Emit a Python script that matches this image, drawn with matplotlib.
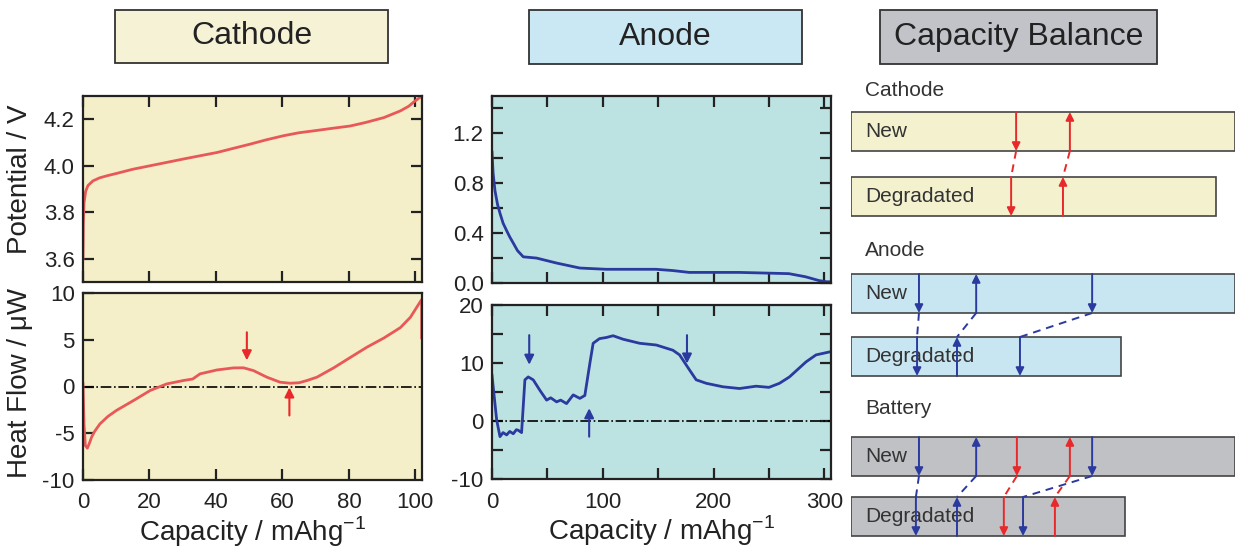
import matplotlib
matplotlib.use("Agg")
import matplotlib.pyplot as plt
from matplotlib.patches import Rectangle

plt.rcParams['font.family'] = ['Liberation Sans', 'DejaVu Sans']
plt.rcParams['mathtext.fontset'] = 'custom'
plt.rcParams['mathtext.rm'] = 'Liberation Sans'
plt.rcParams['axes.unicode_minus'] = False

# Cathode potential curve
cath_cap_v = [0, 0.1, 0.3, 0.8, 1.5, 3.0, 5.0, 7.5, 10.1, 15.0, 20.2, 30.2, 40.3,
              45.0, 50.3, 55.0, 60.3, 65.0, 70.4, 75.0, 80.4, 85.0, 90.5, 95.5,
              98.0, 99.5, 101.3]
cath_pot = [3.60, 3.75, 3.84, 3.89, 3.915, 3.935, 3.948, 3.958, 3.967, 3.985, 4.0,
            4.029, 4.057, 4.074, 4.093, 4.111, 4.129, 4.142, 4.152, 4.161, 4.171,
            4.186, 4.207, 4.236, 4.256, 4.274, 4.293]

# Cathode heat flow curve
cath_cap_h = [0, 0.3, 0.7, 1.3, 2.0, 2.6, 3.5, 5.1, 7.5, 10.1, 15.2, 20.2, 25.2,
              30.2, 33.0, 35.2, 40.3, 45.3, 48.3, 51.3, 55.3, 59.3, 62.3, 65.0,
              67.4, 70.4, 75.4, 80.4, 85.4, 90.5, 95.5, 98.5, 101.0, 101.9, 101.9]
cath_heat = [0.3, -4.0, -6.3, -6.6, -6.0, -5.4, -4.8, -4.0, -3.2, -2.55, -1.5,
             -0.43, 0.28, 0.64, 0.8, 1.35, 1.77, 1.99, 2.0, 1.7, 1.0, 0.46, 0.35,
             0.4, 0.64, 1.0, 1.99, 3.1, 4.2, 5.18, 6.3, 7.4, 8.8, 9.3, 5.2]

# Anode potential curve
an_cap_v = [0, 1.0, 2.7, 5.0, 7.2, 10.0, 13.2, 16.0, 19.2, 23.0, 28.2, 40.2, 58.3,
            79.3, 103, 148, 163, 178, 223, 268, 283, 295, 302, 306]
an_pot = [1.05, 0.88, 0.74, 0.63, 0.56, 0.48, 0.42, 0.37, 0.32, 0.26, 0.21, 0.20,
          0.16, 0.12, 0.11, 0.11, 0.10, 0.085, 0.085, 0.075, 0.05, 0.02, 0.01, 0.01]

# Anode heat flow curve
an_cap_h = [0, 1.4, 4.2, 7.2, 10.0, 13.2, 16.0, 19.2, 22.0, 23.7, 26.7, 29.7, 32.7,
            37.2, 43.2, 49.3, 53.0, 58.3, 62.0, 67.3, 73.3, 79.3, 83.8, 88.3, 91.3,
            97.0, 103.3, 109.3, 118.3, 133.3, 148.3, 163.3, 169.3, 178.3, 184.3,
            193.4, 208.4, 223.4, 238.4, 250.0, 259.5, 268.5, 283.5, 292.5, 304.5]
an_heat = [7.9, 5.3, 0.2, -2.7, -2.0, -2.4, -1.8, -2.2, -1.5, -1.6, -2.0, 7.1, 7.6,
           7.1, 5.3, 3.6, 4.0, 3.3, 3.6, 3.0, 4.5, 3.9, 4.4, 9.9, 13.4, 14.2, 14.4,
           14.7, 14.1, 13.4, 13.1, 12.2, 11.4, 8.8, 7.1, 6.5, 5.9, 5.6, 6.0, 5.8,
           6.5, 7.6, 10.2, 11.4, 11.9]

# arrow markers: (capacity, start, end)
cath_arrows = [(49.3, 5.8, 2.8), (62.1, -3.1, -0.1)]
an_arrows = [(33.6, 14.8, 9.7), (87.7, -2.7, 2.2), (176.0, 14.8, 9.9)]

# capacity balance schematic (capacity in % of the new bar)
cath_width = [100, 95.1]
an_width = [100, 70.3]
batt_width = [100, 71.4]
cath_red_down = [43.0, 41.7]
cath_red_up = [57.0, 55.2]
an_blue_down = [[17.7, 17.2], [62.8, 44.0]]
an_blue_up = [[32.6, 27.6]]
batt_blue_down = [[17.7, 16.9], [62.8, 44.8]]
batt_blue_up = [[32.6, 27.6]]
batt_red_down = [[43.2, 39.8]]
batt_red_up = [[57.0, 53.1]]

W, H = 1236, 557
RED = '#e85858'
RED_ARROW = '#e8282a'
BLUE = '#2a3a9e'
CATH_BG = '#f4efc8'
AN_BG = '#bde2e2'
XLABEL = 'Capacity / mAhg$^{\\mathregular{-1}}$'

fig = plt.figure(figsize=(W / 100, H / 100), dpi=100)


def px_axes(x0, y0, x1, y1):
    return [x0 / W, 1 - y1 / H, (x1 - x0) / W, (y1 - y0) / H]


def style(ax, sides):
    for s in ax.spines.values():
        s.set_linewidth(1.6)
        s.set_color('#222222')
    ax.tick_params(direction='in', length=8, width=1.6, labelsize=16,
                   colors='#222222', **sides)
    ax.tick_params(axis='x', pad=9)
    ax.tick_params(axis='y', pad=6)


def arrow(ax, x, y0, y1, color, lw=1.5, ms=14):
    ax.annotate('', xy=(x, y1), xytext=(x, y0),
                arrowprops=dict(arrowstyle='-|>', color=color, lw=lw,
                                mutation_scale=ms, shrinkA=0, shrinkB=0))


# headers
headers = [('Cathode', (115, 10, 388, 63), '#f5f2d6'),
           ('Anode', (529, 10, 802, 64), '#c9e8f4'),
           ('Capacity Balance', (880, 10, 1157, 64), '#c1c3c9')]
for label, (x0, y0, x1, y1), col in headers:
    r = Rectangle((x0 / W, 1 - y1 / H), (x1 - x0) / W, (y1 - y0) / H,
                  transform=fig.transFigure, facecolor=col, edgecolor='#333333',
                  lw=1.3)
    fig.add_artist(r)
    fig.text((x0 + x1) / 2 / W, 1 - (y0 + y1) / 2 / H, label, fontsize=23,
             ha='center', va='center', color='#222222')

# cathode potential
ax1 = fig.add_axes(px_axes(83, 96, 422, 282))
ax1.set_facecolor(CATH_BG)
ax1.plot(cath_cap_v, cath_pot, color=RED, lw=2)
ax1.set_xlim(0, 102)
ax1.set_ylim(3.5, 4.3)
ax1.set_yticks([3.6, 3.8, 4.0, 4.2])
ax1.set_xticks(range(0, 101, 20))
ax1.set_xticklabels([])
style(ax1, dict(top=True, right=True))
ax1.set_ylabel('Potential / V', fontsize=20, color='#222222')
ax1.yaxis.set_label_coords(-0.147, 0.55)

# cathode heat flow
ax2 = fig.add_axes(px_axes(83, 293, 422, 480))
ax2.set_facecolor(CATH_BG)
ax2.axhline(0, color='black', lw=1.2, ls='-.')
ax2.plot(cath_cap_h, cath_heat, color=RED, lw=2)
for x, a, b in cath_arrows:
    arrow(ax2, x, a, b, RED_ARROW)
ax2.set_xlim(0, 102)
ax2.set_ylim(-10, 10)
ax2.set_yticks([-10, -5, 0, 5, 10])
ax2.set_xticks(range(0, 101, 20))
style(ax2, dict())
ax2.set_ylabel('Heat Flow / \u03bcW', fontsize=20, color='#222222')
ax2.yaxis.set_label_coords(-0.147, 0.52)
ax2.set_xlabel(XLABEL, fontsize=20, color='#222222', labelpad=1)

# anode potential
ax3 = fig.add_axes(px_axes(492, 96, 831, 283))
ax3.set_facecolor(AN_BG)
ax3.plot(an_cap_v, an_pot, color=BLUE, lw=2)
ax3.set_xlim(0, 306)
ax3.set_ylim(0, 1.5)
ax3.set_yticks([0, 0.2, 0.4, 0.6, 0.8, 1.0, 1.2, 1.4])
ax3.set_yticklabels(['0.0', '', '0.4', '', '0.8', '', '1.2', ''])
ax3.set_xticks(range(0, 301, 50))
ax3.set_xticklabels([])
style(ax3, dict(top=True, right=True))

# anode heat flow
ax4 = fig.add_axes(px_axes(492, 305, 831, 479))
ax4.set_facecolor(AN_BG)
ax4.axhline(0, color='black', lw=1.2, ls='-.')
ax4.plot(an_cap_h, an_heat, color=BLUE, lw=2)
for x, a, b in an_arrows:
    arrow(ax4, x, a, b, BLUE)
ax4.set_xlim(0, 306)
ax4.set_ylim(-10, 20)
ax4.set_yticks([-10, -5, 0, 5, 10, 15, 20])
ax4.set_yticklabels(['-10', '', '0', '', '10', '', '20'])
ax4.set_xticks(range(0, 301, 50))
ax4.set_xticklabels(['0', '', '100', '', '200', '', '300'])
style(ax4, dict(top=True, right=True))
ax4.set_xlabel(XLABEL, fontsize=20, color='#222222', labelpad=1)

# capacity balance schematic
ax5 = fig.add_axes([851 / W, 0, 384 / W, 1])
ax5.set_xlim(0, 100)
ax5.set_ylim(H, 0)
ax5.axis('off')

BAR_H = 39


def bar_pair(widths, tops, color, down, up, group, label_y):
    ax5.text(3.6, label_y, group, fontsize=15, va='center', color='#333333')
    for w, t, name in zip(widths, tops, ['New', 'Degradated']):
        ax5.add_patch(Rectangle((0, t), w, BAR_H, facecolor=color,
                                edgecolor='#444444', lw=1.2))
        ax5.text(3.6, t + BAR_H / 2, name, fontsize=15, va='center',
                 color='#333333')
    for xs, col in down:
        for x, t in zip(xs, tops):
            arrow(ax5, x, t, t + BAR_H, col, lw=1.4, ms=12)
        ax5.plot([xs[0], xs[1]], [tops[0] + BAR_H, tops[1]], color=col,
                 lw=1.4, ls=(0, (4, 3)))
    for xs, col in up:
        for x, t in zip(xs, tops):
            arrow(ax5, x, t + BAR_H, t, col, lw=1.4, ms=12)
        ax5.plot([xs[0], xs[1]], [tops[0] + BAR_H, tops[1]], color=col,
                 lw=1.4, ls=(0, (4, 3)))


bar_pair(cath_width, [112, 177], '#f4f1cf',
         [(cath_red_down, RED_ARROW)], [(cath_red_up, RED_ARROW)],
         'Cathode', 91)
bar_pair(an_width, [274, 337], '#c8e6f2',
         [(d, BLUE) for d in an_blue_down], [(u, BLUE) for u in an_blue_up],
         'Anode', 250)
bar_pair(batt_width, [437, 497], '#c0c1c5',
         [(d, BLUE) for d in batt_blue_down] + [(d, RED_ARROW) for d in batt_red_down],
         [(u, BLUE) for u in batt_blue_up] + [(u, RED_ARROW) for u in batt_red_up],
         'Battery', 409)

fig.savefig('out.png', dpi=100)
